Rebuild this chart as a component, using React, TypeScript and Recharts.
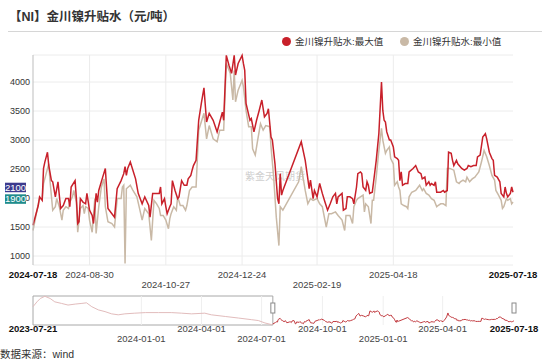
import React from 'react';
import { LineChart, Line, XAxis, YAxis, CartesianGrid, ReferenceLine, ReferenceArea } from 'recharts';

const FONT = "'Liberation Sans', Arial, 'Noto Sans CJK SC', sans-serif";

const START_DATE = '2024-07-18';
const BRUSH_START_DATE = '2023-07-21';

const titleText = '【NI】金川镍升贴水（元/吨）';
const sourceText = '数据来源：wind';
const watermarkText = '紫金天风期货';

const seriesNames = ['金川镍升贴水:最大值', '金川镍升贴水:最小值'];
const seriesColors = ['#c8202a', '#c9b9a6'];

// days since 2024-07-18
const maxDays = [0, 4, 5, 7, 8, 9, 11, 12, 14, 15, 17, 19, 21, 23, 25, 27, 28, 29, 32, 33, 34, 35, 36, 38, 40, 41, 43, 45, 46, 48, 49, 50, 53, 55, 56, 57, 60, 62, 64, 67, 69, 70, 71, 72, 74, 78, 80, 83, 85, 88, 89, 91, 94, 96, 97, 98, 100, 101, 102, 104, 105, 106, 108, 110, 111, 113, 115, 117, 118, 120, 121, 122, 124, 126, 128, 130, 132, 134, 137, 140, 142, 144, 145, 147, 149, 151, 153, 154, 156, 159, 160, 161, 162, 165, 166, 168, 170, 172, 174, 176, 178, 179, 181, 182, 184, 186, 187, 188, 189, 190, 204, 207, 209, 210, 211, 213, 214, 216, 218, 220, 222, 224, 226, 228, 230, 231, 232, 235, 236, 238, 239, 241, 243, 244, 246, 247, 249, 250, 251, 253, 254, 255, 256, 258, 259, 261, 263, 265, 266, 267, 268, 269, 271, 272, 274, 275, 277, 278, 279, 280, 281, 283, 285, 286, 289, 291, 293, 295, 296, 298, 299, 301, 302, 303, 305, 306, 307, 310, 312, 313, 315, 316, 318, 319, 320, 322, 323, 326, 328, 330, 331, 333, 335, 337, 338, 340, 342, 344, 345, 347, 349, 350, 351, 353, 355, 356, 358, 359, 360, 361, 363, 364, 365];
const maxValues = [1530, 1870, 2020, 1960, 2510, 2620, 2790, 2560, 2300, 2280, 2020, 2280, 1820, 1870, 1990, 1990, 1850, 2190, 2300, 1990, 1560, 1590, 1990, 1930, 1900, 2080, 1790, 1700, 1560, 2080, 1930, 2130, 2360, 2510, 2160, 1820, 1730, 1670, 2160, 2300, 2420, 2540, 2390, 2510, 2620, 2330, 2080, 1900, 2020, 1870, 1670, 2080, 2080, 2080, 2190, 1900, 1990, 1850, 1730, 1850, 1900, 2300, 2130, 1990, 2020, 2300, 2220, 2220, 2330, 2390, 2480, 2560, 2650, 3340, 3630, 3900, 3310, 3460, 3340, 3140, 3310, 3480, 3340, 4460, 4290, 4150, 4460, 4120, 4320, 4460, 4320, 4200, 3630, 3340, 3370, 3140, 3340, 3510, 3690, 3400, 3460, 3540, 3050, 3000, 2590, 1990, 1900, 2420, 2050, 2130, 2970, 2650, 2330, 2160, 2310, 1990, 2130, 2020, 2250, 2080, 1930, 1790, 1900, 2020, 2080, 1900, 2020, 2080, 1790, 1820, 2020, 2020, 1990, 1900, 2190, 2420, 2450, 2420, 2190, 2130, 2280, 2220, 2080, 2100, 2280, 2650, 3110, 4000, 3510, 3340, 3310, 3140, 3000, 3000, 2880, 2710, 2680, 2650, 2300, 2450, 2220, 2250, 2250, 2450, 2510, 2560, 2450, 2420, 2330, 2360, 2220, 2280, 2220, 2250, 2220, 2280, 2100, 2100, 2130, 2100, 2130, 2790, 2770, 2650, 2560, 2650, 2590, 2510, 2480, 2510, 2560, 2540, 2560, 2560, 2710, 2740, 3050, 3110, 3020, 2790, 2680, 2650, 2390, 2360, 2280, 2080, 2020, 2190, 2080, 2020, 2080, 2190, 2100];

const minDays = [0, 4, 5, 7, 8, 10, 12, 13, 15, 17, 18, 20, 22, 23, 25, 27, 28, 30, 31, 33, 34, 36, 38, 39, 40, 42, 43, 45, 47, 48, 50, 51, 52, 54, 55, 57, 60, 62, 64, 67, 68, 69, 70, 71, 74, 76, 79, 81, 83, 85, 88, 90, 92, 94, 96, 97, 99, 101, 103, 104, 105, 107, 109, 110, 112, 114, 116, 117, 119, 121, 124, 126, 130, 132, 134, 137, 140, 142, 145, 147, 150, 152, 153, 154, 156, 159, 160, 162, 164, 166, 167, 169, 171, 173, 175, 177, 180, 181, 183, 185, 187, 188, 190, 202, 204, 207, 209, 211, 213, 216, 218, 220, 223, 225, 227, 230, 232, 235, 237, 238, 241, 243, 244, 246, 247, 249, 251, 252, 253, 255, 257, 258, 259, 261, 263, 265, 266, 268, 269, 271, 272, 274, 275, 277, 278, 279, 280, 282, 284, 285, 286, 288, 291, 292, 294, 296, 297, 299, 301, 303, 305, 307, 308, 310, 312, 314, 315, 317, 320, 322, 324, 325, 327, 329, 330, 332, 334, 336, 337, 339, 341, 343, 345, 347, 349, 351, 352, 354, 356, 357, 358, 360, 361, 363, 364, 365];
const minValues = [1440, 1900, 1990, 1990, 2250, 2420, 2590, 2280, 1790, 1850, 1990, 1850, 1620, 1790, 1850, 1820, 1930, 2020, 2130, 1930, 1410, 1820, 1870, 1730, 1850, 1820, 1620, 1410, 1990, 1390, 1850, 2020, 2190, 2330, 1850, 1590, 1560, 1500, 1990, 1990, 2190, 2220, 870, 2160, 2220, 2130, 2020, 1820, 1620, 1820, 1730, 1270, 1960, 1900, 1820, 1700, 1700, 1620, 1470, 1640, 1730, 1850, 1790, 2020, 1870, 1870, 1790, 1870, 2130, 2190, 2190, 3170, 3460, 3020, 3250, 3020, 2970, 3170, 3170, 4320, 4150, 3690, 4200, 3660, 3860, 4030, 3920, 3510, 3230, 3230, 2850, 2740, 3020, 3280, 3170, 3250, 3230, 2880, 2360, 1670, 1180, 1850, 1790, 2280, 2540, 2130, 1900, 1990, 1960, 1990, 1900, 1850, 1500, 1730, 1730, 1760, 1700, 1620, 1440, 1700, 1700, 1560, 1850, 1960, 1990, 2020, 2050, 1760, 1900, 1850, 1560, 1960, 1960, 2360, 2820, 3200, 3000, 2770, 2820, 2880, 2680, 2590, 2220, 2280, 2190, 2130, 1900, 1870, 1850, 1820, 2020, 2100, 2130, 2160, 2220, 2130, 2160, 2080, 2050, 1990, 1960, 1850, 1870, 1900, 1900, 1870, 2510, 2510, 2480, 2280, 2250, 2280, 2310, 2280, 2360, 2280, 2330, 2360, 2390, 2450, 2620, 2820, 2710, 2560, 2390, 2310, 2130, 2050, 1960, 1820, 1850, 1990, 1960, 1990, 1900, 1930];

// overview (days since 2023-07-21), period before the main window
const earlyDays = [0, 6, 11, 18, 26, 33, 43, 53, 64, 74, 81, 89, 99, 109, 119, 129, 139, 154, 170, 190, 210, 225, 240, 260, 270, 291, 311, 331, 341, 351, 361, 363];
const earlyValues = [5400, 6490, 7240, 7740, 7240, 6490, 6140, 5770, 5990, 6140, 6270, 5400, 4680, 4300, 3800, 3580, 3800, 3950, 4080, 4080, 4080, 3950, 3800, 3950, 3580, 3210, 2860, 2490, 2300, 1760, 1390, 1530];

const mainTickDates = ['2024-07-18', '2024-08-30', '2024-10-27', '2024-12-24', '2025-02-19', '2025-04-18', '2025-07-18'];
const brushTickDates = ['2023-07-21', '2024-01-01', '2024-04-01', '2024-07-01', '2024-10-01', '2025-01-01', '2025-04-01', '2025-07-18'];
const yTicks = [1000, 1500, 2000, 2500, 3000, 3500, 4000];
const Y_DOMAIN: [number, number] = [845, 4466];
const endTags = [2100, 1900];
const endTagColors = ['#3c3a8e', '#1f8c8c'];

const DAY = 86400000;
const dayDiff = (d: string, base: string) => Math.round((Date.parse(d) - Date.parse(base)) / DAY);

const mainTicks = mainTickDates.map((d) => dayDiff(d, START_DATE));
const brushTicks = brushTickDates.map((d) => dayDiff(d, BRUSH_START_DATE));
const mainEnd = mainTicks[mainTicks.length - 1];
const brushEnd = brushTicks[brushTicks.length - 1];
const windowStart = dayDiff(START_DATE, BRUSH_START_DATE);

const maxData = maxDays.map((d, i) => ({ day: d, value: maxValues[i] }));
const minData = minDays.map((d, i) => ({ day: d, value: minValues[i] }));
const earlyData = earlyDays.map((d, i) => ({ day: d, value: earlyValues[i] }));
const recentData = maxDays.map((d, i) => ({ day: d + windowStart, value: maxValues[i] }));

const MAIN_MARGIN = { top: 55, right: 37, bottom: 0, left: 3 };

function AxisTick(props: any) {
  const { x, y, index, labels, oddLower, upperDy, lowerDy } = props;
  const n = labels.length;
  const isEnd = index === 0 || index === n - 1;
  const lower = !isEnd && ((index % 2 === 1) === oddLower);
  return (
    <text
      x={x}
      y={y + (lower ? lowerDy : upperDy)}
      textAnchor="middle"
      fontSize={9.5}
      fontFamily={FONT}
      fontWeight={isEnd ? 700 : 400}
      fill={isEnd ? '#111' : '#444'}
    >
      {labels[index]}
    </text>
  );
}

function EndTag(props: any) {
  const { viewBox, text, color } = props;
  if (!viewBox) return null;
  const x = viewBox.x - 28;
  const y = viewBox.y - 9.5;
  return (
    <g>
      <rect x={x} y={y} width={21} height={9.5} fill={color} />
      <text x={x + 10.5} y={y + 8} textAnchor="middle" fontSize={9.5} fontFamily={FONT} fill="#fff">
        {text}
      </text>
    </g>
  );
}

function Handle(props: any) {
  const { viewBox } = props;
  if (!viewBox) return null;
  return <rect x={viewBox.x - 2} y={viewBox.y + 7} width={4} height={10} fill="#fff" stroke="#8a8a8a" strokeWidth={1} />;
}

export default function App() {
  return (
    <div style={{ position: 'absolute', left: 0, top: 0, width: 550, height: 361, background: '#fff', overflow: 'hidden', fontFamily: FONT }}>
      <div style={{ position: 'absolute', left: 9, top: 10, fontSize: 12.5, lineHeight: '15px', fontWeight: 700, color: '#333', whiteSpace: 'nowrap' }}>
        {titleText}
      </div>
      <div style={{ position: 'absolute', left: 8, top: 31, width: 534, height: 1, background: '#d6d6d6' }} />
      {seriesNames.map((name, i) => (
        <div key={name} style={{ position: 'absolute', left: 282 + i * 118, top: 35, height: 12, display: 'flex', alignItems: 'center', whiteSpace: 'nowrap' }}>
          <span style={{ display: 'inline-block', width: 9, height: 9, borderRadius: '50%', background: seriesColors[i], marginRight: 4 }} />
          <span style={{ fontSize: 9.5, color: '#333' }}>{name}</span>
        </div>
      ))}
      <div style={{ position: 'absolute', left: 245, top: 171, fontSize: 10, lineHeight: '12px', color: '#cfcfcf', whiteSpace: 'nowrap' }}>
        {watermarkText}
      </div>
      <div style={{ position: 'absolute', left: 0, top: 0 }}>
        <LineChart width={550} height={300} margin={MAIN_MARGIN}>
          <CartesianGrid vertical={false} stroke="#ececec" />
          {mainTicks.slice(1, -1).map((t) => (
            <ReferenceLine key={t} x={t} stroke="#ececec" />
          ))}
          <XAxis
            dataKey="day"
            type="number"
            domain={[0, mainEnd]}
            ticks={mainTicks}
            interval={0}
            axisLine={false}
            tickLine={false}
            tickSize={0}
            tickMargin={0}
            height={35}
            tick={<AxisTick labels={mainTickDates} oddLower={false} upperDy={13.4} lowerDy={23.4} />}
          />
          <YAxis
            type="number"
            domain={Y_DOMAIN}
            ticks={yTicks}
            interval={0}
            width={30}
            tickSize={0}
            tickMargin={3}
            tickLine={false}
            axisLine={{ stroke: '#bdbdbd' }}
            tick={{ fontSize: 9, fill: '#333', fontFamily: FONT }}
          />
          <Line data={minData} dataKey="value" name={seriesNames[1]} stroke={seriesColors[1]} strokeWidth={1.5} dot={false} isAnimationActive={false} />
          <Line data={maxData} dataKey="value" name={seriesNames[0]} stroke={seriesColors[0]} strokeWidth={1.5} dot={false} isAnimationActive={false} />
        </LineChart>
      </div>
      {/* overlay with the same scales so the end-value tags sit above the axis labels */}
      <div style={{ position: 'absolute', left: 0, top: 0, pointerEvents: 'none' }}>
        <LineChart width={550} height={300} margin={MAIN_MARGIN}>
          <XAxis dataKey="day" type="number" domain={[0, mainEnd]} ticks={mainTicks} height={35} tick={false} axisLine={false} tickLine={false} />
          <YAxis type="number" domain={Y_DOMAIN} ticks={yTicks} width={30} tick={false} axisLine={false} tickLine={false} />
          <Line data={maxData} dataKey="value" stroke="none" dot={false} isAnimationActive={false} />
          {endTags.map((v, i) => (
            <ReferenceLine key={v} y={v} stroke="none" label={<EndTag text={String(v)} color={endTagColors[i]} />} />
          ))}
        </LineChart>
      </div>
      <div style={{ position: 'absolute', left: 0, top: 290 }}>
        <LineChart width={550} height={60} margin={{ top: 6, right: 36, bottom: 0, left: 33 }}>
          <XAxis
            dataKey="day"
            type="number"
            domain={[0, brushEnd]}
            ticks={brushTicks}
            interval={0}
            axisLine={false}
            tickLine={false}
            tickSize={0}
            tickMargin={0}
            height={25}
            tick={<AxisTick labels={brushTickDates} oddLower={true} upperDy={7.4} lowerDy={17.4} />}
          />
          <YAxis hide type="number" domain={[1300, 7800]} />
          {brushTicks.slice(1, -1).map((t) => (
            <ReferenceLine key={t} x={t} stroke="#efefef" />
          ))}
          <ReferenceArea x1={0} x2={windowStart} stroke="#a8a8a8" strokeWidth={1} fill="none" fillOpacity={0} />
          <Line data={earlyData} dataKey="value" stroke="#e2bcbc" strokeWidth={1} dot={false} isAnimationActive={false} />
          <Line data={recentData} dataKey="value" stroke="#c23a3f" strokeWidth={1} dot={false} isAnimationActive={false} />
          <ReferenceLine x={windowStart} stroke="none" label={<Handle />} />
          <ReferenceLine x={brushEnd} stroke="none" label={<Handle />} />
        </LineChart>
      </div>
      <div style={{ position: 'absolute', left: 0, top: 347, fontSize: 10.5, lineHeight: '14px', color: '#333', whiteSpace: 'nowrap' }}>
        {sourceText}
      </div>
    </div>
  );
}
